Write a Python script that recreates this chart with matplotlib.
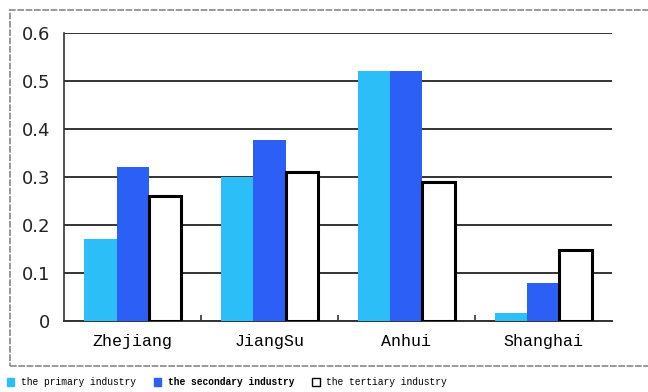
import numpy as np
import matplotlib
matplotlib.use('Agg')
import matplotlib.pyplot as plt
from matplotlib.patches import Patch, Rectangle

# industry shares by province
provinces = ['Zhejiang', 'JiangSu', 'Anhui', 'Shanghai']
primary = [0.17, 0.30, 0.52, 0.017]
secondary = [0.32, 0.377, 0.52, 0.08]
tertiary = [0.26, 0.31, 0.29, 0.148]
series_names = ['the primary industry', 'the secondary industry', 'the tertiary industry']
yticks = [0, 0.1, 0.2, 0.3, 0.4, 0.5, 0.6]
ytick_labels = ['0', '0.1', '0.2', '0.3', '0.4', '0.5', '0.6']

c_primary = '#2bbef7'
c_secondary = '#2b5ff5'

fig = plt.figure(figsize=(6.48, 3.92), dpi=100)
ax = fig.add_axes([0.099, 0.181, 0.845, 0.735])

x = np.arange(len(provinces))
w = 0.235
ax.bar(x - w, primary, w, color=c_primary, zorder=3)
ax.bar(x, secondary, w, color=c_secondary, zorder=3)
ax.bar(x + w, tertiary, w, color='white', edgecolor='black', linewidth=2.2, zorder=3)

ax.set_xlim(-0.5, len(provinces) - 0.5)
ax.set_ylim(0, 0.6)
ax.set_yticks(yticks)
ax.set_yticklabels(ytick_labels, fontsize=13, family='DejaVu Sans', color='#222222')
ax.tick_params(axis='y', length=0, pad=10)

# category labels, with tick marks on the category boundaries
ax.set_xticks(x)
ax.set_xticklabels(provinces, fontsize=12, family='Liberation Mono')
ax.tick_params(axis='x', which='major', length=0, pad=9)
ax.set_xticks(np.arange(0.5, len(provinces) - 1), minor=True)
ax.tick_params(axis='x', which='minor', direction='in', length=4, width=1.2, color='#333333')

ax.grid(axis='y', color='#333333', linewidth=1.4)
ax.set_axisbelow(True)
for s in ['top', 'right']:
    ax.spines[s].set_visible(False)
ax.spines['left'].set_color('#333333')
ax.spines['left'].set_linewidth(1.2)
ax.spines['bottom'].set_color('#333333')
ax.spines['bottom'].set_linewidth(1.4)

# frame around the plot area
fig.patches.append(Rectangle((10 / 648, 1 - 366 / 392), 645 / 648, 356 / 392,
                             transform=fig.transFigure, fill=False,
                             edgecolor='#888888', linewidth=1.2, linestyle=(0, (4, 1))))

handles = [Patch(facecolor=c_primary, edgecolor=c_primary),
           Patch(facecolor=c_secondary, edgecolor=c_secondary),
           Patch(facecolor='white', edgecolor='black', linewidth=1.0)]
leg = fig.legend(handles, series_names, loc='center left', bbox_to_anchor=(-0.003, 0.025),
                 ncol=3, frameon=False, handlelength=0.75, handleheight=1.0,
                 handletextpad=0.7, columnspacing=1.9,
                 prop={'family': 'Liberation Mono', 'size': 6.9})
leg.get_texts()[1].set_fontweight('bold')

fig.savefig('out.png', dpi=100)
